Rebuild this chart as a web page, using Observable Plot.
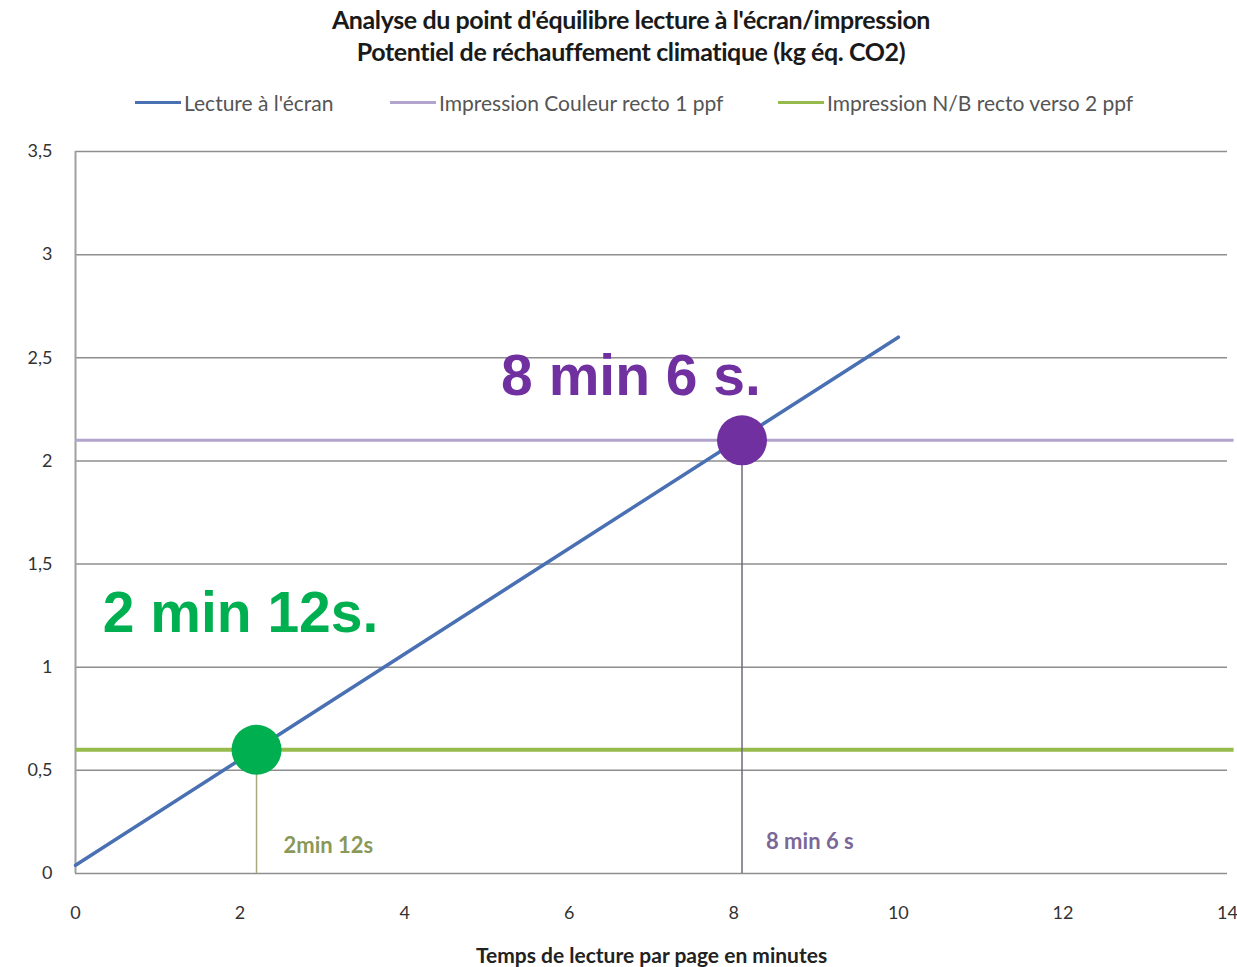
<!DOCTYPE html>
<html>
<head>
<meta charset="utf-8">
<script src="https://cdn.jsdelivr.net/npm/d3@7"></script>
<script src="https://cdn.jsdelivr.net/npm/@observablehq/plot@0.6"></script>
<style>
  body { margin: 0; background: #fff; font-family: Lato, "Open Sans", sans-serif; }
  #wrap { position: relative; width: 1237px; height: 967px; overflow: hidden; }
  .title { position: absolute; left: 0; width: 1262px; text-align: center; font-weight: bold; font-size: 25px; color: #1a1a1a; letter-spacing: -0.4px; }
  #legend { position: absolute; top: 90px; left: 0; width: 1237px; height: 28px; }
  .item { position: absolute; display: flex; align-items: center; font-size: 21px; color: #555; white-space: nowrap; }
  .sw { display: inline-block; width: 46px; height: 3px; margin-right: 3px; }
  #xlabel { position: absolute; top: 942px; left: 0; width: 1303px; text-align: center; font-weight: bold; font-size: 21px; color: #222; }
  #chart { position: absolute; top: 130px; left: 0; }
</style>
</head>
<body>
<div id="wrap">
  <div class="title" style="top:4px">Analyse du point d'équilibre lecture à l'écran/impression</div>
  <div class="title" style="top:36px">Potentiel de réchauffement climatique (kg éq. CO2)</div>
  <div id="legend"></div>
  <div id="chart"></div>
  <div id="xlabel">Temps de lecture par page en minutes</div>
</div>
<script>
// Reading time per page (minutes) vs. global warming potential (kg CO2 eq.)
const screenMinutes = [0, 10];
const screenImpact = [0.04, 2.6];

const printSeries = ["Impression Couleur recto 1 ppf", "Impression N/B recto verso 2 ppf"];
const printImpact = [2.1, 0.6];

const seriesNames = ["Lecture à l'écran", "Impression Couleur recto 1 ppf", "Impression N/B recto verso 2 ppf"];
const seriesColors = ["#4a70b4", "#b2a4cc", "#96bb4c"];

// Break-even points: 8 min 6 s (colour print) and 2 min 12 s (B/W print)
const breakEvenMinutes = [8.1, 2.2];
const breakEvenImpact = [2.1, 0.6];
const breakEvenSmall = ["8 min 6 s", "2min 12s"];
const breakEvenBig = ["8 min 6 s.", "2 min 12s."];

const xTicks = [0, 2, 4, 6, 8, 10, 12, 14];
const yTicks = [0, 0.5, 1, 1.5, 2, 2.5, 3, 3.5];

// Legend
const legend = document.getElementById("legend");
const legendX = [135, 390, 778];
seriesNames.forEach((name, i) => {
  const el = document.createElement("div");
  el.className = "item";
  el.style.left = legendX[i] + "px";
  el.innerHTML = `<span class="sw" style="background:${seriesColors[i]}"></span>${name}`;
  legend.appendChild(el);
});

const screen = screenMinutes.map((m, i) => ({minutes: m, impact: screenImpact[i]}));
const prints = printSeries.map((s, i) => ({series: s, impact: printImpact[i]}));
const points = breakEvenMinutes.map((m, i) => ({
  minutes: m, impact: breakEvenImpact[i], small: breakEvenSmall[i], big: breakEvenBig[i]
}));
const [colourPt, bwPt] = points;
const fmt = d => String(d).replace(".", ",");

const bigFont = "'Liberation Sans', Arial, sans-serif";

const chart = Plot.plot({
  width: 1237,
  height: 800,
  marginTop: 21,
  marginBottom: 57,
  marginLeft: 75,
  marginRight: 10,
  style: {fontFamily: "Lato, 'Open Sans', sans-serif", fontSize: "18px", color: "#333"},
  x: {domain: [0, 14], label: null},
  y: {domain: [0, 3.5], label: null},
  marks: [
    Plot.gridY(yTicks, {stroke: "#8e8e8e", strokeOpacity: 1, strokeWidth: 1.5}),
    Plot.ruleX([0], {y1: 0, y2: 3.5, stroke: "#a0a0a0", strokeWidth: 2}),
    // Horizontal print-impact levels
    Plot.ruleY([prints[0]], {y: "impact", x1: 0, x2: 14.08, stroke: seriesColors[1], strokeWidth: 3}),
    Plot.ruleY([prints[1]], {y: "impact", x1: 0, x2: 14.08, stroke: seriesColors[2], strokeWidth: 4}),
    // Drop lines from break-even points
    Plot.ruleX([colourPt], {x: "minutes", y1: 0, y2: "impact", stroke: "#6e6880", strokeWidth: 1.5}),
    Plot.ruleX([bwPt], {x: "minutes", y1: 0, y2: "impact", stroke: "#a9aa80", strokeWidth: 1.5}),
    // Screen reading line
    Plot.line(screen, {x: "minutes", y: "impact", stroke: seriesColors[0], strokeWidth: 3.5}),
    Plot.dot([colourPt], {x: "minutes", y: "impact", r: 25, fill: "#7030a0"}),
    Plot.dot([bwPt], {x: "minutes", y: "impact", r: 25, fill: "#00b050"}),
    // Small labels along the x axis
    Plot.text([colourPt], {x: "minutes", y: 0, text: "small", textAnchor: "start", dx: 24, dy: -32,
      fill: "#7a6898", fontSize: 22, fontWeight: "bold"}),
    Plot.text([bwPt], {x: "minutes", y: 0, text: "small", textAnchor: "start", dx: 27, dy: -28,
      fill: "#8a9858", fontSize: 22, fontWeight: "bold"}),
    // Large call-outs
    Plot.text([colourPt], {x: "minutes", y: "impact", text: "big", textAnchor: "middle", dx: -111, dy: -64,
      fill: "#7030a0", fontSize: 57, fontWeight: "bold", fontFamily: bigFont}),
    Plot.text([bwPt], {x: "minutes", y: "impact", text: "big", textAnchor: "middle", dx: -16, dy: -136,
      fill: "#00b050", fontSize: 57, fontWeight: "bold", fontFamily: bigFont}),
    Plot.axisX({ticks: xTicks, tickSize: 0, tickPadding: 33, label: null, fontSize: 18}),
    Plot.axisY({ticks: yTicks, tickSize: 0, tickPadding: 23, tickFormat: fmt, label: null, fontSize: 18})
  ]
});
document.getElementById("chart").appendChild(chart);
</script>
</body>
</html>
